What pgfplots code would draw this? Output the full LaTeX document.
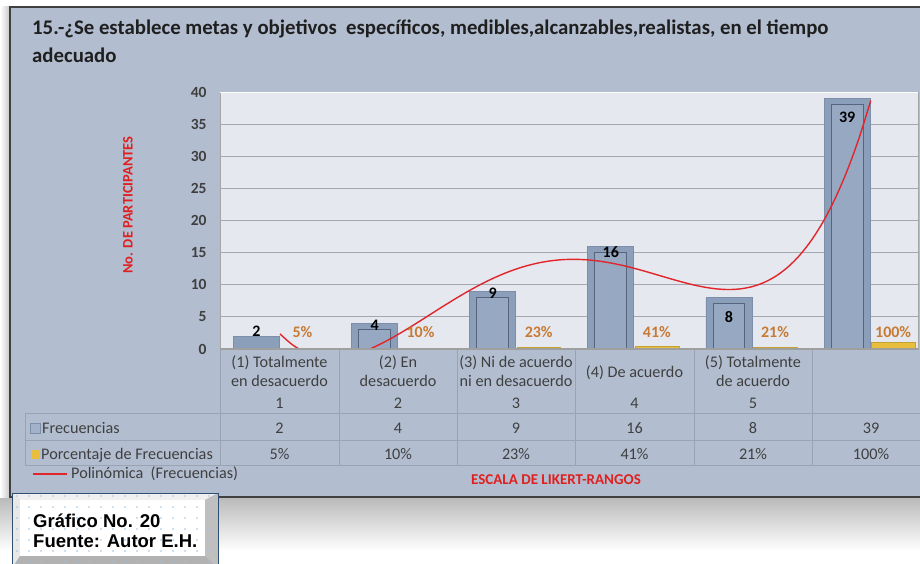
\documentclass[border=0pt]{standalone}
\usepackage{fontspec}
\setmainfont{Carlito}
\newfontfamily\arialfont{Liberation Sans}
\usepackage{pgfplots}
\usepackage{pgfplotstable}
\pgfplotsset{compat=1.18}

\definecolor{bgc}{HTML}{B2BED0}
\definecolor{plotbg}{HTML}{E5E8EE}
\definecolor{barc}{HTML}{8C9FBA}
\definecolor{bard}{HTML}{7D8FA8}
\definecolor{barin}{HTML}{97A9C2}
\definecolor{barline}{HTML}{56657C}
\definecolor{pctc}{HTML}{E8BE3C}
\definecolor{pctlab}{HTML}{C87A35}
\definecolor{trend}{HTML}{E0262B}
\definecolor{tgrid}{HTML}{99A3B3}
\definecolor{ttext}{HTML}{3F3F3F}
\definecolor{redlab}{HTML}{E02020}
\definecolor{gridc}{HTML}{A3A8B0}
\definecolor{dotc}{HTML}{9DC3E6}
\definecolor{boxb}{HTML}{2F4E74}

\pgfplotstableread{
x freq off pct pn poff
1 2 5 0.05 5 16.5
2 4 -2 0.10 10 16.2
3 9 -2 0.23 23 15.5
4 16 -6 0.41 41 14.5
5 8 -19 0.21 21 15.6
6 39 -19 1.00 100 10.5
}\datatable

\pgfplotstableread{
x inner
2 3.1
3 8.1
4 15.1
5 7.1
6 38.1
}\innertable

\begin{document}
\begin{tikzpicture}[x=1pt,y=1pt]
\useasboundingbox (0,0) rectangle (920,563);
\fill[white] (0,0) rectangle (920,563);
% shadows
\shade[top color=gray!55, bottom color=white] (0,12) rectangle (920,66);
\shade[left color=white, right color=gray!45] (0,66) rectangle (10,556);
% chart area
\draw[fill=bgc, draw=black!75, line width=1.2pt] (10,66) rectangle (930,556);
% title
\node[anchor=base west, inner sep=0pt, font=\bfseries\fontsize{20.8}{24}\selectfont, text=black!88]
  at (32,528) {15.-¿Se establece metas y objetivos\ \ específicos, medibles,alcanzables,realistas, en el tiempo};
\node[anchor=base west, inner sep=0pt, font=\bfseries\fontsize{20.8}{24}\selectfont, text=black!88]
  at (32,500) {adecuado};
% y label
\node[rotate=90, inner sep=0pt, font=\bfseries\fontsize{14.5}{17}\selectfont, text=redlab] at (128,358) {No. DE PARTICIPANTES};

\begin{axis}[
  at={(220pt,214pt)}, anchor=south west, scale only axis,
  width=698pt, height=257pt,
  xmin=0.492, xmax=6.4, ymin=0, ymax=40,
  ytick={0,5,...,40}, xtick=\empty,
  ymajorgrids, grid style={draw=gridc, line width=0.9pt},
  major tick length=0pt,
  axis line style={draw=gray!70, line width=0.8pt},
  axis background/.style={fill=plotbg},
  /pgf/number format/assume math mode=true,
  yticklabel style={font=\bfseries\fontsize{15.5}{17}\selectfont, text=ttext, xshift=-10pt},
  clip=true,
]
\addplot[ybar, bar width=0.39, bar shift=-0.2, fill=barc, draw=bard, line width=0.8pt,
  nodes near coords, point meta=explicit,
  visualization depends on={\thisrow{off}\as\myoff},
  nodes near coords style={anchor=center, xshift=-23.6pt, yshift=\myoff pt, font=\bfseries\fontsize{16}{18}\selectfont, text=black}]
  table[x=x, y=freq, meta=freq] {\datatable};
\addplot[ybar, bar width=0.27, bar shift=-0.2, fill=barin, draw=barline, line width=0.9pt]
  table[x=x, y=inner] {\innertable};
\addplot[ybar, bar width=0.37, bar shift=0.19, fill=pctc, draw=pctc!85!black, line width=0.5pt,
  nodes near coords={\pgfmathprintnumber{\pgfplotspointmeta}\%}, point meta=explicit,
  visualization depends on={\thisrow{poff}\as\mypoff},
  nodes near coords style={anchor=center, xshift=22.4pt, yshift=\mypoff pt, font=\bfseries\fontsize{16}{18}\selectfont, text=pctlab}]
  table[x=x, y=pct, meta=pn] {\datatable};
\addplot[trend, line width=1.4pt, smooth] coordinates {
(1.0,2.345) (1.1,0.729) (1.2,-0.389) (1.3,-1.067) (1.4,-1.359) (1.5,-1.317) (1.6,-0.990) (1.7,-0.426) (1.8,0.333) (1.9,1.246)
(2.0,2.274) (2.1,3.381) (2.2,4.536) (2.3,5.708) (2.4,6.870) (2.5,7.997) (2.6,9.068) (2.7,10.064) (2.8,10.969) (2.9,11.768)
(3.0,12.452) (3.1,13.013) (3.2,13.445) (3.3,13.745) (3.4,13.915) (3.5,13.957) (3.6,13.877) (3.7,13.683) (3.8,13.387) (3.9,13.003)
(4.0,12.548) (4.1,12.040) (4.2,11.503) (4.3,10.962) (4.4,10.444) (4.5,9.979) (4.6,9.602) (4.7,9.348) (4.8,9.256) (4.9,9.367)
(5.0,9.726) (5.1,10.380) (5.2,11.379) (5.3,12.774) (5.4,14.622) (5.5,16.981) (5.6,19.911) (5.7,23.475) (5.8,27.741) (5.9,32.777)
(6.0,38.655)};
\draw[draw=gray!75, line width=3pt] (rel axis cs:0,0) -- (rel axis cs:1,0);
\draw[draw=white, line width=2pt] (rel axis cs:0,1) -- (rel axis cs:1,1);
\end{axis}

% data table grid
\begin{scope}[draw=tgrid, line width=0.9pt]
\foreach \yy in {150,123,98} \draw (25,\yy) -- (920,\yy);
\foreach \xx in {220,339,457,575,694,812} \draw (\xx,213) -- (\xx,98);
\draw (25,150) -- (25,98);
\end{scope}
\tikzset{tt/.style={inner sep=0pt, anchor=base, font=\fontsize{16.2}{19}\selectfont, text=ttext}}
\node[tt] at (279.5,196) {(1) Totalmente};
\node[tt] at (279.5,177) {en desacuerdo};
\node[tt] at (398,196) {(2) En};
\node[tt] at (398,177) {desacuerdo};
\node[tt] at (516,196) {(3) Ni de acuerdo};
\node[tt] at (516,177) {ni en desacuerdo};
\node[tt] at (634.5,186) {(4) De acuerdo};
\node[tt] at (753,196) {(5) Totalmente};
\node[tt] at (753,177) {de acuerdo};
\foreach \xx/\lab in {279.5/1,398/2,516/3,634.5/4,753/5} \node[tt] at (\xx,155) {\lab};
\foreach \xx/\lab in {279.5/2,398/4,516/9,634.5/16,753/8,871/39} \node[tt] at (\xx,130) {\lab};
\foreach \xx/\lab in {279.5/5,398/10,516/23,634.5/41,753/21,871/100} \node[tt] at (\xx,104) {\lab\%};
\filldraw[fill=barc!80!white, draw=bard, line width=0.5pt] (30,130) rectangle (40,140);
\node[tt, anchor=base west] at (42,130) {Frecuencias};
\fill[fill=pctc] (31,104.5) rectangle (40,113.5);
\node[tt, anchor=base west] at (41,104) {Porcentaje de Frecuencias};
\draw[trend, line width=1.3pt] (33,89) -- (67,89);
\node[tt, anchor=base west] at (71,85) {Polinómica\ \ (Frecuencias)};
\node[inner sep=0pt, font=\bfseries\fontsize{15}{17}\selectfont, text=redlab] at (556,83) {ESCALA DE LIKERT-RANGOS};

% Grafico box
\fill[gray!35] (12,-5) rectangle (218,70);
\fill[white!88!gray] (12,70) -- (218,70) -- (205,63) -- (20,63) -- cycle;
\fill[white!82!gray] (12,70) -- (20,63) -- (20,7) -- (12,-5) -- cycle;
\fill[gray!50] (218,70) -- (205,63) -- (205,7) -- (218,-5) -- cycle;
\fill[gray!60] (12,-5) -- (20,7) -- (205,7) -- (218,-5) -- cycle;
\fill[white] (20,7) rectangle (205,63);
\foreach \xx in {17,29,...,215} \foreach \yy in {1,12,...,68} \fill[dotc] (\xx,\yy) circle (0.9);
\draw[boxb, line width=1pt] (12,-5) rectangle (218,70);
\node[anchor=base west, inner sep=0pt, font=\arialfont\bfseries\fontsize{18.5}{20}\selectfont] at (33,36) {Gráfico No. 20};
\node[anchor=base west, inner sep=0pt, font=\arialfont\bfseries\fontsize{18.5}{20}\selectfont] at (33,16) {Fuente: Autor E.H.};
\end{tikzpicture}
\end{document}
